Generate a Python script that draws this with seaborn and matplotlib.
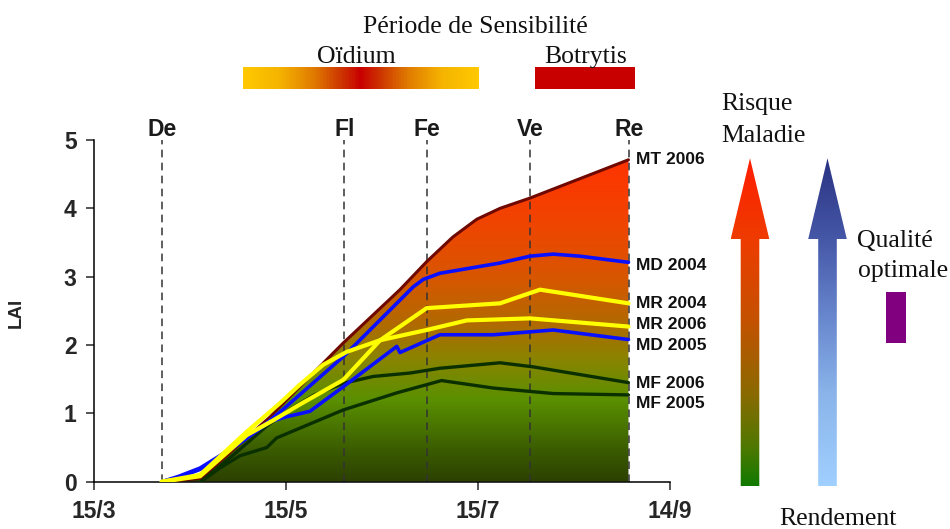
import numpy as np
import pandas as pd
import matplotlib
matplotlib.use("Agg")
import matplotlib.pyplot as plt
import seaborn as sns
from matplotlib.colors import LinearSegmentedColormap
from matplotlib.patches import Polygon, Rectangle
import matplotlib.transforms as mtransforms

sns.set_theme(style="white")
plt.rcParams['font.family'] = ['Liberation Sans', 'DejaVu Sans']

# ---------------- data (x = days after 15/3) ----------------
xtick_days = [0, 61, 122, 183]
xtick_labels = ["15/3", "15/5", "15/7", "14/9"]
ytick_values = [0, 1, 2, 3, 4, 5]

stage_names = ["De", "Fl", "Fe", "Ve", "Re"]
stage_days = [21.5, 79.5, 105.9, 138.5, 169.9]

oidium_period = [47.4, 122.2]
botrytis_period = [140.1, 171.9]

mt2006_x = [21.5, 34, 56, 59.1, 79.2, 97.2, 105.7, 114, 121.6, 129, 138.5, 169.8]
mt2006_y = [0.0, 0.05, 0.95, 1.10, 2.03, 2.81, 3.22, 3.58, 3.84, 4.00, 4.15, 4.71]

md2004_x = [21.5, 27, 33.7, 40, 48, 56, 59.1, 79.2, 101.4, 104.6, 109.9, 129, 138.5, 145.9, 154.4, 169.8]
md2004_y = [0.0, 0.08, 0.20, 0.38, 0.62, 0.90, 1.02, 1.83, 2.85, 2.96, 3.05, 3.20, 3.30, 3.33, 3.30, 3.21]

md2005_x = [21.5, 27, 33.7, 40, 48, 55.9, 61.2, 68.6, 79.2, 96.2, 97.2, 109.9, 126.9, 145.9, 169.8]
md2005_y = [0.0, 0.06, 0.18, 0.36, 0.62, 0.88, 0.95, 1.03, 1.39, 1.98, 1.89, 2.15, 2.15, 2.22, 2.08]

mr2004_x = [21.5, 33.7, 48.5, 57, 65.4, 79.2, 90.9, 105.7, 129, 141.7, 169.8]
mr2004_y = [0.0, 0.08, 0.68, 0.90, 1.13, 1.49, 2.07, 2.54, 2.61, 2.81, 2.61]

mr2006_x = [21.5, 33.7, 48.5, 59.1, 65.4, 72.8, 80.3, 90.9, 105.7, 118.4, 138.5, 169.8]
mr2006_y = [0.0, 0.10, 0.73, 1.15, 1.42, 1.71, 1.90, 2.07, 2.22, 2.36, 2.39, 2.27]

mf2006_x = [34, 45, 55, 62, 70, 79.2, 88.7, 100.4, 109.9, 129, 139.6, 169.8]
mf2006_y = [0.0, 0.42, 0.82, 1.05, 1.27, 1.44, 1.54, 1.59, 1.66, 1.74, 1.68, 1.45]

mf2005_x = [34, 40, 46.4, 54.9, 58, 79.2, 96.2, 105.7, 110.4, 126.9, 145.9, 169.8]
mf2005_y = [0.0, 0.20, 0.38, 0.50, 0.64, 1.05, 1.30, 1.42, 1.48, 1.37, 1.29, 1.27]

series_names = ["MT 2006", "MD 2004", "MR 2004", "MR 2006", "MD 2005", "MF 2006", "MF 2005"]
label_y = [4.71, 3.17, 2.61, 2.30, 1.99, 1.44, 1.14]

# ---------------- figure ----------------
W, H = 950, 529
fig = plt.figure(figsize=(W / 100, H / 100), dpi=100)
ax = fig.add_axes([94 / W, (H - 481.7) / H, 576 / W, 341.7 / H])
over = fig.add_axes([0, 0, 1, 1], zorder=5)
over.set_xlim(0, W)
over.set_ylim(H, 0)
over.axis("off")
over.patch.set_alpha(0)

# gradient fill under MT 2006
fill_cmap = LinearSegmentedColormap.from_list("lai", [
    (0.0, "#2c4000"), (0.08, "#385800"), (0.24, "#5a9000"), (0.36, "#8a8400"),
    (0.46, "#b06a00"), (0.6, "#d85600"), (0.76, "#f04400"), (0.94, "#ff3400"),
    (1.0, "#ff3300")])
fill = ax.fill_between(mt2006_x, 0, mt2006_y, facecolor="none", edgecolor="none")
grad = np.linspace(0, 1, 256).reshape(-1, 1)
im = ax.imshow(grad, extent=[0, 183, 0, 5], origin="lower", aspect="auto",
               cmap=fill_cmap, zorder=1, interpolation="bilinear")
im.set_clip_path(fill.get_paths()[0], transform=ax.transData)

# stage lines
ax.vlines(stage_days, 0, 5, colors="#333333", linestyles=(0, (5, 3.5)), lw=1.1, zorder=2)

def draw(x, y, color, lw):
    df = pd.DataFrame({"x": x, "y": y})
    sns.lineplot(data=df, x="x", y="y", ax=ax, color=color, lw=lw,
                 estimator=None, sort=False, zorder=3)

draw(mt2006_x, mt2006_y, "#6e0800", 2.2)
draw(mf2005_x, mf2005_y, "#0b3000", 2.4)
draw(mf2006_x, mf2006_y, "#0b3000", 2.4)
draw(md2005_x, md2005_y, "#0a10ff", 2.6)
draw(md2004_x, md2004_y, "#0a10ff", 2.6)
draw(mr2006_x, mr2006_y, "#ffff00", 3.0)
draw(mr2004_x, mr2004_y, "#ffff00", 3.0)

ax.set_xlim(0, 183)
ax.set_ylim(0, 5)
ax.set_xticks(xtick_days)
ax.set_xticklabels(xtick_labels)
ax.set_yticks(ytick_values)
ax.set_xlabel("")
ax.set_ylabel("LAI", fontsize=13.5, fontweight="bold")
ax.yaxis.set_label_coords(-0.120, 0.494)
for s in ["top", "right"]:
    ax.spines[s].set_visible(False)
for s in ["left", "bottom"]:
    ax.spines[s].set_color("black")
    ax.spines[s].set_linewidth(1.1)
ax.tick_params(axis="x", length=5.5, width=1.1, pad=7.5, labelsize=16.5, bottom=True)
ax.tick_params(axis="y", length=5.5, width=1.1, pad=7, labelsize=16.5, left=True)
for t in ax.get_xticklabels() + ax.get_yticklabels():
    t.set_fontweight("bold")
ax.patch.set_alpha(0)

# stage labels
for name, d in zip(stage_names, stage_days):
    ax.text(d, 5.06, name, ha="center", va="baseline", fontsize=16.5,
            fontweight="bold", color="#1a1a1a", clip_on=False)

# series labels at right
for name, yv in zip(series_names, label_y):
    ax.text(stage_days[-1] + 2.4, yv, name, ha="left", va="center", fontsize=12.5,
            fontweight="bold", color="#111111", clip_on=False)

# sensitivity periods
serif = ["Liberation Serif", "DejaVu Serif"]
blend = mtransforms.blended_transform_factory(ax.transData, over.transData)
oid_cmap = LinearSegmentedColormap.from_list("oid", [
    (0.0, "#ffc800"), (0.15, "#f5b400"), (0.3, "#e07a00"), (0.42, "#cc3200"),
    (0.5, "#c80000"), (0.58, "#cc3200"), (0.7, "#e07a00"), (0.85, "#f5b400"),
    (1.0, "#ffc800")])
n = 160
edges = np.linspace(oidium_period[0], oidium_period[1], n + 1)
for i in range(n):
    over.add_patch(Rectangle((edges[i], 66.7), edges[i + 1] - edges[i], 22.6,
                             transform=blend, facecolor=oid_cmap((i + 0.5) / n),
                             edgecolor="none", lw=0, clip_on=False))
over.add_patch(Rectangle((botrytis_period[0], 66.7), botrytis_period[1] - botrytis_period[0], 22.6,
                         transform=blend, facecolor="#c80000", edgecolor="none", clip_on=False))
over.text(475, 33, "Période de Sensibilité", ha="center", va="baseline", fontsize=18.5, family=serif, color="#111111")
over.text(356.5, 63, "Oïdium", ha="center", va="baseline", fontsize=18.5, family=serif, color="#111111")
over.text(586, 63, "Botrytis", ha="center", va="baseline", fontsize=18.5, family=serif, color="#111111")

# arrows
def grad_arrow(cx, colors):
    tip, head_base, bottom = 158.3, 239.0, 486.0
    hw, sw = 19.3, 9.3
    pts = [(cx, tip), (cx + hw, head_base), (cx + sw, head_base), (cx + sw, bottom),
           (cx - sw, bottom), (cx - sw, head_base), (cx - hw, head_base)]
    poly = Polygon(pts, closed=True, facecolor="none", edgecolor="none")
    over.add_patch(poly)
    cm = LinearSegmentedColormap.from_list("a", colors)
    g = np.linspace(0, 1, 256).reshape(-1, 1)
    img = over.imshow(g, extent=[cx - hw, cx + hw, tip, bottom], origin="lower",
                      aspect="auto", cmap=cm, interpolation="bilinear")
    img.set_clip_path(poly)

grad_arrow(750, [(0.0, "#ff1e00"), (0.25, "#ee3c00"), (0.5, "#c35200"),
                 (0.72, "#8a6a00"), (0.88, "#507800"), (1.0, "#117a00")])
grad_arrow(827.5, [(0.0, "#2a3282"), (0.25, "#4658a8"), (0.5, "#6a8ad0"),
                   (0.72, "#8ab4ea"), (1.0, "#a0d0ff")])
over.set_xlim(0, W)
over.set_ylim(H, 0)

over.text(721.7, 110, "Risque", ha="left", va="baseline", fontsize=18.5, family=serif, color="#111111")
over.text(721.7, 141.7, "Maladie", ha="left", va="baseline", fontsize=18.5, family=serif, color="#111111")
over.text(856.7, 246.7, "Qualité", ha="left", va="baseline", fontsize=18.5, family=serif, color="#111111")
over.text(858, 276.7, "optimale", ha="left", va="baseline", fontsize=18.5, family=serif, color="#111111")
over.text(838, 525, "Rendement", ha="center", va="baseline", fontsize=18.5, family=serif, color="#111111")
over.add_patch(Rectangle((885.7, 292.3), 20.3, 50.4, facecolor="#800080", edgecolor="none"))

fig.savefig("out.png", dpi=100)
